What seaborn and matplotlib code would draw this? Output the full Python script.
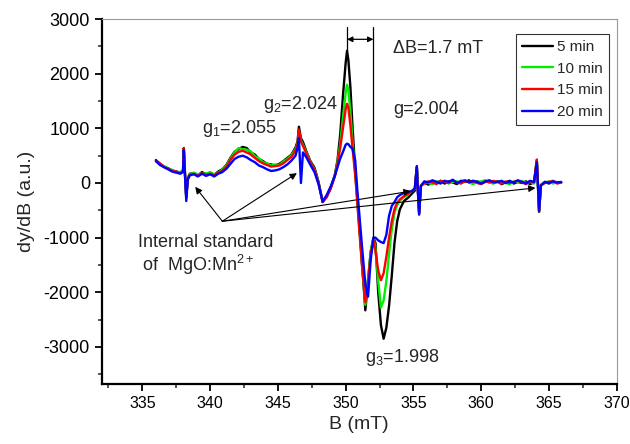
import matplotlib
matplotlib.use('Agg')
import matplotlib.pyplot as plt
import pandas as pd
import seaborn as sns

# magnetic field (mT), shared by all four spectra
field = [
    336.0, 336.3, 336.6, 336.9, 337.2, 337.5, 337.8,
    338.0, 338.06, 338.15, 338.24, 338.35, 338.5,
    338.8, 339.1, 339.4, 339.7, 340.0, 340.3, 340.6, 340.9,
    341.2, 341.5, 341.8, 342.1, 342.4, 342.7, 343.0, 343.3, 343.6,
    343.9, 344.2, 344.5, 344.8, 345.1, 345.4, 345.7, 346.0, 346.3,
    346.45, 346.55, 346.7, 346.85,
    347.1, 347.4, 347.7, 348.0, 348.3, 348.6, 348.9,
    349.2, 349.4, 349.6, 349.8, 350.0, 350.1, 350.2, 350.35, 350.5, 350.7, 350.85,
    351.0, 351.2, 351.45, 351.65, 351.85, 352.05, 352.2, 352.4, 352.6, 352.8,
    353.0, 353.2, 353.4, 353.6, 353.8, 354.0, 354.3, 354.6, 354.9, 355.1,
    355.25, 355.32, 355.42, 355.55,
    355.8, 356.1, 356.4, 356.7, 357.0, 357.3, 357.6, 357.9, 358.2, 358.5,
    358.8, 359.1, 359.4, 359.7, 360.0, 360.3, 360.6, 360.9, 361.2, 361.5,
    361.8, 362.1, 362.4, 362.7, 363.0, 363.3, 363.6, 363.9,
    364.1, 364.17, 364.27, 364.4,
    364.7, 365.0, 365.3, 365.6, 365.9,
]

min5 = [
    420, 350, 300, 270, 230, 210, 190,
    230, 640, 150, -260, 90, 170,
    180, 140, 200, 160, 190, 150, 210, 250,
    330, 460, 570, 620, 660, 640, 560, 520, 440,
    400, 350, 340, 320, 350, 400, 460, 520, 650,
    760, 1030, 820, 750,
    580, 400, 280, 20, -350, -250, -90,
    150, 420, 900, 1600, 2200, 2420, 2250, 1750, 1050, 250, -250,
    -750, -1450, -2330, -1800, -1250, -1000, -1100, -2000, -2600, -2850,
    -2650, -2250, -1700, -1100, -700, -480, -330, -270, -190, -140,
    290, -100, -550, -50,
    10, -30, 20, 0, 40, -10, 30, 10, -20, 40,
    20, 50, 0, 30, -10, 20, 40, 0, 30, -20,
    10, 40, -10, 20, 0, 30, -20, 10,
    420, 50, -530, -40,
    20, -10, 30, 0, 10,
]

min10 = [
    400, 340, 310, 260, 240, 200, 200,
    220, 620, 140, -250, 80, 160,
    190, 150, 180, 170, 200, 160, 190, 240,
    320, 440, 560, 640, 620, 610, 580, 490, 450,
    380, 360, 320, 340, 330, 390, 440, 510, 620,
    720, 940, 780, 700,
    560, 380, 250, 0, -330, -240, -80,
    130, 380, 720, 1200, 1650, 1800, 1700, 1300, 780, 200, -300,
    -800, -1450, -2230, -1750, -1250, -1000, -1200, -1800, -2280, -2150,
    -1800, -1300, -850, -550, -400, -320, -260, -210, -150, -110,
    280, -80, -540, -40,
    20, 0, -20, 30, 10, 40, -10, 20, 30, 0,
    40, 10, -20, 20, 30, 50, 10, -10, 20, 30,
    0, -20, 30, 10, 40, 0, 20, -10,
    400, 40, -520, -30,
    10, 30, -10, 20, 0,
]

min15 = [
    410, 360, 290, 260, 220, 210, 180,
    210, 630, 140, -270, 80, 150,
    170, 130, 180, 150, 170, 140, 190, 220,
    300, 420, 520, 570, 590, 560, 520, 460, 400,
    360, 330, 300, 310, 320, 360, 420, 480, 600,
    700, 980, 760, 680,
    540, 370, 240, -10, -340, -260, -100,
    120, 350, 650, 1000, 1350, 1450, 1380, 1050, 650, 150, -320,
    -850, -1500, -2180, -1800, -1300, -1050, -1250, -1600, -1780, -1650,
    -1350, -1000, -700, -480, -360, -300, -240, -200, -140, -100,
    300, -90, -560, -50,
    -10, 30, 10, -20, 40, 20, 0, 50, 10, -10,
    30, 20, 40, 0, -20, 30, 10, 40, 20, -10,
    30, 0, 20, 40, 10, -20, 30, 10,
    430, 60, -520, -40,
    0, 20, 40, -10, 10,
]

min20 = [
    400, 330, 290, 250, 210, 190, 170,
    200, 600, 120, -330, 60, 140,
    160, 120, 170, 130, 160, 120, 170, 200,
    260, 350, 440, 480, 500, 470, 420, 380, 320,
    290, 250, 220, 230, 250, 290, 340, 410, 500,
    640, 820, 0, 560,
    470, 330, 200, -20, -340, -220, -60,
    130, 290, 450, 570, 700, 720, 710, 660, 630, 420, -100,
    -550, -1150, -1850, -2080, -1400, -1000, -1000, -1050, -1080, -1100,
    -950, -600, -420, -350, -260, -220, -180, -160, -150, -100,
    310, -120, -580, -60,
    30, 10, 50, 20, -10, 40, 20, 60, 0, 30,
    50, 10, 40, 20, -10, 30, 50, 10, 20, 40,
    0, 30, 10, 50, 20, -10, 40, 20,
    380, 30, -510, -50,
    20, 0, 30, 10, 20,
]

labels = ['5 min', '10 min', '15 min', '20 min']
colors = ['black', '#00ee00', '#ff0000', '#0000ff']

frames = []
for lab, ys in zip(labels, [min5, min10, min15, min20]):
    frames.append(pd.DataFrame({'B': field, 'dy': ys, 'time': lab}))
df = pd.concat(frames, ignore_index=True)

sns.set_style('ticks')
plt.rcParams['font.family'] = ['Liberation Sans', 'DejaVu Sans']
plt.rcParams['mathtext.default'] = 'regular'
plt.rcParams['axes.unicode_minus'] = False

fig = plt.figure(figsize=(6.3, 4.44), dpi=100)
ax = fig.add_axes([0.1614, 0.135, 0.8176, 0.822])

sns.lineplot(data=df, x='B', y='dy', hue='time', hue_order=labels,
             palette=dict(zip(labels, colors)), sort=False, estimator=None,
             linewidth=1.7, ax=ax)

ax.set_xlim(332, 370)
ax.set_ylim(-3680, 3000)
ax.set_xticks(range(335, 371, 5))
ax.set_xticks([332.5 + 5 * i for i in range(8)], minor=True)
ax.set_yticks(range(-3000, 3001, 1000))
ax.set_yticks(range(-3500, 3000, 1000), minor=True)
ax.tick_params(axis='both', which='major', direction='out', length=5,
               width=1.3, colors='black')
ax.tick_params(axis='x', which='major', labelsize=11.5)
ax.tick_params(axis='y', which='major', labelsize=13)
ax.tick_params(axis='both', which='minor', direction='out', length=3, width=1.1)
ax.set_xlabel('B (mT)', fontsize=14)
ax.set_ylabel('dy/dB (a.u.)', fontsize=14, labelpad=6)
for side in ['left', 'bottom']:
    ax.spines[side].set_linewidth(1.6)
    ax.spines[side].set_color('black')
for side in ['top', 'right']:
    ax.spines[side].set_visible(True)
    ax.spines[side].set_linewidth(0.8)
    ax.spines[side].set_color('#999999')

leg = ax.legend(loc='upper right', bbox_to_anchor=(0.985, 0.959),
                borderaxespad=0, fontsize=11, frameon=True, fancybox=False,
                handlelength=2.0, handletextpad=0.3, labelspacing=0.5)
leg.get_frame().set_edgecolor('black')
leg.get_frame().set_linewidth(0.8)
for line in leg.get_lines():
    line.set_linewidth(1.7)

# linewidth markers
ax.plot([350.1, 350.1], [2420, 2860], color='black', lw=0.9)
ax.plot([352.05, 352.05], [-1000, 2860], color='black', lw=0.9)
ax.annotate('', xy=(350.1, 2630), xytext=(352.05, 2630),
            arrowprops=dict(arrowstyle='<|-|>', color='black', lw=0.9,
                            mutation_scale=8, shrinkA=0, shrinkB=0))

# Mn2+ reference lines
src = (340.9, -700)
for tgt in [(338.9, -70), (346.4, 180), (354.8, -150), (364.0, -90)]:
    ax.annotate('', xy=tgt, xytext=src,
                arrowprops=dict(arrowstyle='-|>', color='black', lw=0.8,
                                mutation_scale=10, shrinkA=0, shrinkB=0))

fs = 13
ax.text(339.4, 990, 'g$_1$=2.055', fontsize=fs, va='center')
ax.text(343.9, 1430, 'g$_2$=2.024', fontsize=fs, va='center')
ax.text(353.5, 1340, 'g=2.004', fontsize=fs, va='center')
ax.text(353.5, 2470, '\u0394B=1.7 mT', fontsize=fs, va='center')
ax.text(351.4, -3200, 'g$_3$=1.998', fontsize=fs, va='center')
ax.text(334.7, -1080, 'Internal standard', fontsize=fs, va='center')
ax.text(335.0, -1500, 'of  MgO:Mn$^{2+}$', fontsize=fs, va='center')

fig.savefig('out.png', dpi=100)
